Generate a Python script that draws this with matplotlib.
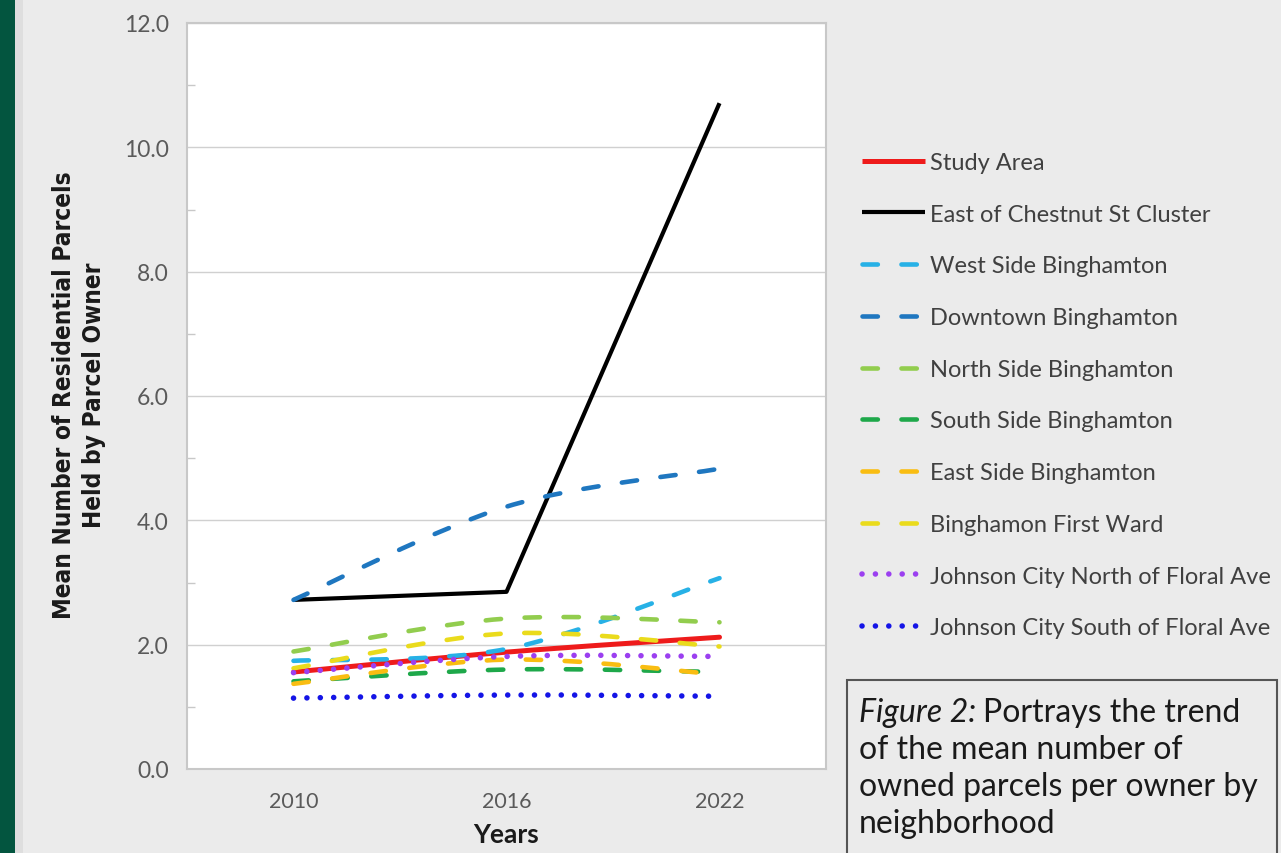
import matplotlib

matplotlib.use("Agg")
import numpy as np
from matplotlib import pyplot as plt
from matplotlib.lines import Line2D
from matplotlib.patches import PathPatch, Rectangle
from matplotlib.path import Path

plt.rcParams["font.family"] = ["Lato", "DejaVu Sans"]

YEARS = ["2010", "2016", "2022"]

STUDY_AREA = [1.56, 1.88, 2.12]
EAST_OF_CHESTNUT = [2.72, 2.85, 10.71]
WEST_SIDE = [1.74, 1.93, 3.07]
DOWNTOWN = [2.72, 4.22, 4.83]
NORTH_SIDE = [1.89, 2.42, 2.36]
SOUTH_SIDE = [1.41, 1.60, 1.56]
EAST_SIDE = [1.37, 1.76, 1.52]
FIRST_WARD = [1.62, 2.18, 1.97]
JC_NORTH = [1.55, 1.81, 1.81]
JC_SOUTH = [1.14, 1.19, 1.17]

Y_TICKS = [0, 2, 4, 6, 8, 10, 12]

BG = "#ebebeb"
DASHED = (0, (3.35, 5.15))
DOTTED = (0, (0.01, 2.4))

# label, values, color, linestyle, linewidth, smoothed
SERIES = [
    ("Study Area", STUDY_AREA, "#ee1b1b", "-", 3.6, True),
    ("East of Chestnut St Cluster", EAST_OF_CHESTNUT, "#000000", "-", 3.0, False),
    ("West Side Binghamton", WEST_SIDE, "#27b1e6", DASHED, 3.3, True),
    ("Downtown Binghamton", DOWNTOWN, "#1f77c0", DASHED, 3.3, True),
    ("North Side Binghamton", NORTH_SIDE, "#92cd4e", DASHED, 3.3, True),
    ("South Side Binghamton", SOUTH_SIDE, "#1ea84a", DASHED, 3.3, True),
    ("East Side Binghamton", EAST_SIDE, "#f9bd12", DASHED, 3.3, True),
    ("Binghamon First Ward", FIRST_WARD, "#eadb1c", DASHED, 3.3, True),
    ("Johnson City North of Floral Ave", JC_NORTH, "#9b3ff0", DOTTED, 4.0, True),
    ("Johnson City South of Floral Ave", JC_SOUTH, "#1414e6", DOTTED, 4.0, True),
]


def smooth_path(xs, ys):
    # bezier segments like a spreadsheet "smoothed line"
    pts = np.column_stack([xs, ys]).astype(float)
    n = len(pts)
    verts = [pts[0]]
    codes = [Path.MOVETO]
    for i in range(n - 1):
        p0 = pts[max(i - 1, 0)]
        p1 = pts[i]
        p2 = pts[i + 1]
        p3 = pts[min(i + 2, n - 1)]
        verts += [p1 + (p2 - p0) / 6.0, p2 - (p3 - p1) / 6.0, p2]
        codes += [Path.CURVE4] * 3
    return Path(verts, codes)


fig = plt.figure(figsize=(12.81, 8.54), dpi=100, facecolor=BG)

# left page border
fig.add_artist(Rectangle((0, 0), 15 / 1281, 1, transform=fig.transFigure,
                         facecolor="#03553f", edgecolor="none"))
fig.add_artist(Rectangle((15 / 1281, 0), 8 / 1281, 1, transform=fig.transFigure,
                         facecolor="#dedede", edgecolor="none"))

ax = fig.add_axes([187 / 1281, 84 / 854, 639 / 1281, 746 / 854])
ax.set_facecolor("white")

x = np.arange(len(YEARS))
handles = []
for label, values, color, ls, lw, smooth in SERIES:
    if smooth:
        patch = PathPatch(smooth_path(x, values), fill=False, edgecolor=color,
                          linewidth=lw, linestyle=ls, capstyle="round",
                          joinstyle="round", zorder=3)
        ax.add_patch(patch)
    else:
        ax.plot(x, values, color=color, linewidth=lw, linestyle=ls,
                solid_capstyle="butt", zorder=3)
    handles.append(Line2D([], [], color=color, linewidth=lw, linestyle=ls,
                          dash_capstyle="round", solid_capstyle="butt"))

ax.set_xlim(-0.5, len(YEARS) - 0.5)
ax.set_ylim(0, 12)
ax.set_xticks(x)
ax.set_xticklabels(YEARS)
ax.set_yticks(Y_TICKS)
ax.set_yticklabels([f"{v:.1f}" for v in Y_TICKS])
ax.set_yticks(np.arange(1, 12, 2), minor=True)
ax.yaxis.grid(True, color="#d0d0d0", linewidth=1.0, zorder=0)
ax.set_axisbelow(True)
ax.tick_params(axis="y", which="major", length=0, pad=13, labelsize=16.5, labelcolor="#5a5a5a")
ax.tick_params(axis="y", which="minor", direction="in", length=6, width=1, color="#c8c8c8")
ax.tick_params(axis="x", length=0, pad=16, labelsize=15.5, labelcolor="#5a5a5a")
for side in ax.spines.values():
    side.set_color("#c8c8c8")
    side.set_linewidth(1.5)

ax.set_xlabel("Years", fontsize=19, fontweight="bold", color="#1a1a1a", labelpad=8)
fig.text(79 / 1281, 1 - 395 / 854,
         "Mean Number of Residential Parcels\nHeld by Parcel Owner",
         rotation=90, ha="center", va="center", fontsize=17.5, fontweight="bold",
         fontstretch="condensed", color="#1a1a1a", linespacing=1.35,
         family=["DejaVu Sans"])

fig.legend(handles, [s[0] for s in SERIES], loc="upper left",
           bbox_to_anchor=(862 / 1281, 1 - 153 / 854), frameon=False,
           fontsize=17, labelcolor="#404040", handlelength=2.67,
           handletextpad=0.21, labelspacing=1.30, borderpad=0, borderaxespad=0)

# caption box
fig.add_artist(Rectangle((847 / 1281, -0.05), 430 / 1281, 0.05 + (854 - 681) / 854,
                         transform=fig.transFigure, facecolor="none",
                         edgecolor="#555555", linewidth=1.5))
caption_lines = ["of the mean number of", "owned parcels per owner by", "neighborhood"]
cap_size = 23
first = fig.text(859 / 1281, 1 - 722 / 854, "Figure 2:", fontsize=cap_size,
                 style="italic", color="#1a1a1a", va="baseline")
fig.canvas.draw()
bb = first.get_window_extent(renderer=fig.canvas.get_renderer())
fig.text((bb.x1 + 7) / 1281, 1 - 722 / 854, "Portrays the trend", fontsize=cap_size,
         color="#1a1a1a", va="baseline")
for i, line in enumerate(caption_lines):
    fig.text(859 / 1281, 1 - (759 + 37 * i) / 854, line, fontsize=cap_size,
             color="#1a1a1a", va="baseline")

fig.savefig("out.png", dpi=100, facecolor=BG)
